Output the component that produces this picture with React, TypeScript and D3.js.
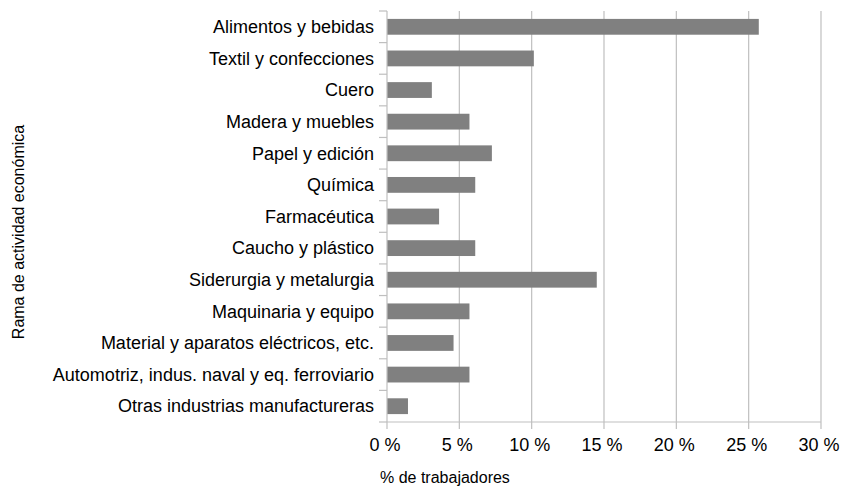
import React from "react";
import * as d3 from "d3";

const categories = [
  "Alimentos y bebidas",
  "Textil y confecciones",
  "Cuero",
  "Madera y muebles",
  "Papel y edición",
  "Química",
  "Farmacéutica",
  "Caucho y plástico",
  "Siderurgia y metalurgia",
  "Maquinaria y equipo",
  "Material y aparatos eléctricos, etc.",
  "Automotriz, indus. naval y eq. ferroviario",
  "Otras industrias manufactureras",
];
const values = [25.7, 10.15, 3.1, 5.7, 7.25, 6.1, 3.6, 6.1, 14.5, 5.7, 4.6, 5.7, 1.45];
const xTicks = [0, 5, 10, 15, 20, 25, 30];
const xTitle = "% de trabajadores";
const yTitle = "Rama de actividad económica";

const W = 841;
const H = 486;
const left = 387;
const right = 821;
const top = 11;
const bottom = 422;
const font = "'Liberation Sans', Arial, sans-serif";

export default function App() {
  const x = d3.scaleLinear().domain([0, 30]).range([left, right]);
  const y = d3.scaleBand().domain(categories).range([top, bottom]).paddingInner(0.5).paddingOuter(0.25);
  const step = y.step();
  return (
    <svg width={W} height={H} style={{ position: "absolute", left: 0, top: 0 }} fontFamily={font}>
      {xTicks.slice(1).map((t) => (
        <line key={"g" + t} x1={x(t)} x2={x(t)} y1={top} y2={bottom} stroke="#bfbfbf" strokeWidth={1.2} />
      ))}
      {categories.map((c, i) => (
        <rect key={c} x={x(0)} y={y(c)!} width={x(values[i]) - x(0)} height={y.bandwidth()} fill="#808080" />
      ))}
      <line x1={x(0)} x2={x(0)} y1={top} y2={bottom} stroke="#bfbfbf" strokeWidth={1.2} />
      <line x1={x(0)} x2={x(30)} y1={bottom} y2={bottom} stroke="#bfbfbf" strokeWidth={1.2} />
      {d3.range(categories.length + 1).map((i) => (
        <line key={"yt" + i} x1={x(0) - 8} x2={x(0)} y1={top + i * step} y2={top + i * step} stroke="#bfbfbf" strokeWidth={1.2} />
      ))}
      {xTicks.map((t) => (
        <line key={"xt" + t} x1={x(t)} x2={x(t)} y1={bottom} y2={bottom + 7} stroke="#bfbfbf" strokeWidth={1.2} />
      ))}
      {categories.map((c) => (
        <text key={"l" + c} x={x(0) - 13} y={y(c)! + y.bandwidth() / 2} dy="0.35em" textAnchor="end" fontSize={18} fill="#000">
          {c}
        </text>
      ))}
      {xTicks.map((t) => (
        <text key={"xl" + t} x={x(t) - 2} y={445} dy="0.35em" textAnchor="middle" fontSize={18} fill="#000">
          {t} %
        </text>
      ))}
      <text x={380} y={477} dy="0.35em" textAnchor="start" fontSize={16} fill="#000">
        {xTitle}
      </text>
      <text transform={`translate(18,232) rotate(-90)`} dy="0.35em" textAnchor="middle" fontSize={16} fill="#000">
        {yTitle}
      </text>
    </svg>
  );
}
